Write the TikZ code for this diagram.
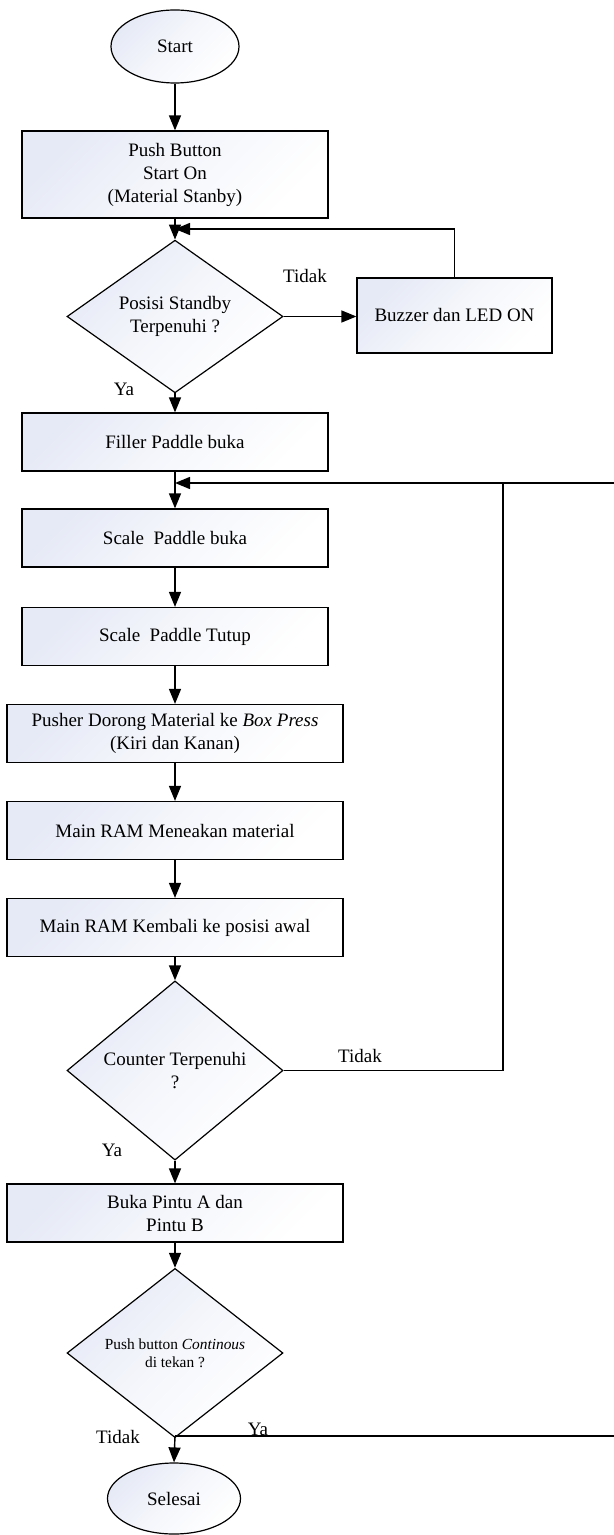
\documentclass[tikz,border=0pt]{standalone}
\usepackage{fontspec}
\setmainfont{Liberation Serif}
\usetikzlibrary{arrows.meta}
\usetikzlibrary{shapes.geometric}
\tikzset{>={Triangle[length=7.5pt,width=6pt]}}
\definecolor{boxblue}{RGB}{230,234,246}
\tikzset{
  shadebox/.style={draw, line width=0.6pt, top color=boxblue, bottom color=white, middle color=boxblue!40!white, shading angle=45, inner sep=1pt, align=center, font=\fontsize{9.5}{11.5}\selectfont},
  procbox/.style={shadebox, rectangle, minimum width=153pt, minimum height=29pt},
  widebox/.style={procbox, minimum width=168pt},
  decision/.style={shadebox, diamond, minimum width=108pt, minimum height=62pt, inner sep=0pt},
  terminal/.style={shadebox, ellipse, minimum width=64pt, minimum height=36.5pt},
  flow/.style={line width=0.7pt},
  lbl/.style={font=\fontsize{9.5}{11.5}\selectfont}
}

\begin{document}
\begin{tikzpicture}[x=0.5pt, y=-0.5pt]
  \useasboundingbox (0,0) rectangle (614,1535);
  \node [terminal] (start) at (175,46.5) {Start};
  \node [procbox, minimum height=43.5pt] (push) at (175,174.5) {Push Button\\Start On\\(Material Stanby)};
  \node [decision] (standby) at (175,316.5) {Posisi Standby\\Terpenuhi ?};
  \node [procbox, minimum width=97.5pt, minimum height=37.5pt] (buzzer) at (454.5,315.5) {Buzzer dan LED ON};
  \node [procbox] (filler) at (175,442) {Filler Paddle buka};
  \node [procbox] (scaleopen) at (175,538) {Scale\ \ Paddle buka};
  \node [procbox] (scaleclose) at (175,636.5) {Scale\ \ Paddle Tutup};
  \node [widebox] (pusher) at (175,733.5) {Pusher Dorong Material ke \textit{Box Press}\\(Kiri dan Kanan)};
  \node [widebox] (rampress) at (175,830.5) {Main RAM Meneakan material};
  \node [widebox] (ramback) at (175,927.5) {Main RAM Kembali ke posisi awal};
  \node [decision] (counter) at (175,1070.5) {Counter Terpenuhi\\?};
  \node [widebox] (doors) at (175,1213) {Buka Pintu A dan\\Pintu B};
  \node [decision, font=\fontsize{7.7}{9}\selectfont] (cont) at (175,1353) {Push button \textit{Continous}\\di tekan ?};
  \node [terminal, minimum width=66.5pt, minimum height=35.5pt] (finish) at (174,1498.5) {Selesai};

  \coordinate (loopa) at (175,229);
  \coordinate (loopb) at (175,483);
  \coordinate (loopc) at (503,483);
  \coordinate (edgea) at (614,483);
  \coordinate (splitd) at (175,1436);
  \coordinate (edgeb) at (614,1436);

  \draw [flow, ->] (start) -- (push);
  \draw [flow, ->] (push) -- (standby);
  \draw [flow, ->] (standby.east) -- (standby.east -| buzzer.west);
  \draw [flow, ->] (buzzer.north) |- (loopa);
  \draw [flow, ->] (standby) -- (filler);
  \draw [flow, ->] (filler) -- (scaleopen);
  \draw [flow, ->] (edgea) -- (loopb);
  \draw [flow] (counter.east) -| (loopc);
  \draw [flow, ->] (scaleopen) -- (scaleclose);
  \draw [flow, ->] (scaleclose) -- (pusher);
  \draw [flow, ->] (pusher) -- (rampress);
  \draw [flow, ->] (rampress) -- (ramback);
  \draw [flow, ->] (ramback) -- (counter);
  \draw [flow, ->] (counter) -- (doors);
  \draw [flow, ->] (doors) -- (cont);
  \draw [flow, ->] (cont.south) -- (splitd) -- (finish.north);
  \draw [flow] (splitd) -- (edgeb);

  \node [lbl] (notone) at (305,276) {Tidak};
  \node [lbl] (yesone) at (124,389) {Ya};
  \node [lbl] (nottwo) at (360,1056) {Tidak};
  \node [lbl] (yestwo) at (112,1150) {Ya};
  \node [lbl] (notthree) at (118,1437) {Tidak};
  \node [lbl] (yesthree) at (258,1429) {Ya};
\end{tikzpicture}
\end{document}
